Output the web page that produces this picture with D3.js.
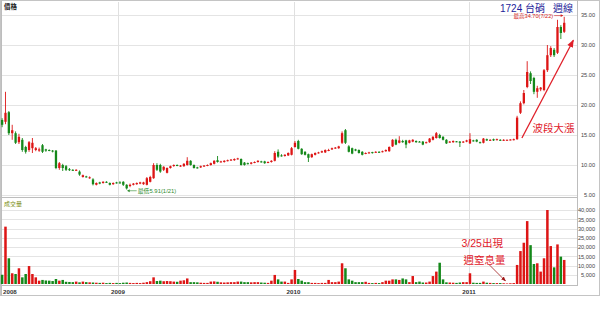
<!DOCTYPE html>
<html>
<head>
<meta charset="utf-8">
<script src="https://cdn.jsdelivr.net/npm/d3@7"></script>
<style>
  body { margin: 0; background: #fff; }
  svg { display: block; font-family: "Liberation Sans", "Noto Sans CJK TC", sans-serif; }
</style>
</head>
<body>
<svg id="chart" width="600" height="310"></svg>
<script>
// Weekly candles, one per Monday from 2008-05-05 to 2011-07-18
const opens = [
  17.5, 17.2, 18.8, 15.3, 15.3, 13.8, 14.2, 13.0, 12.5, 12.8,
  12.5, 12.4, 13.3, 12.6, 12.5, 12.4, 12.4, 9.5, 10.0, 9.8,
  9.3, 9.2, 9.1, 8.9, 8.0, 8.1, 7.8, 7.6, 6.7, 7.1,
  7.0, 7.2, 7.0, 6.8, 7.1, 7.1, 7.2, 6.7, 6.5, 6.7,
  6.8, 6.9, 6.8, 6.7, 7.2, 7.8, 10.0, 10.0, 9.2, 8.7,
  9.5, 9.9, 10.0, 9.8, 9.8, 10.0, 10.7, 10.0, 9.6, 9.6,
  9.8, 9.9, 10.0, 10.2, 10.8, 10.5, 10.5, 10.7, 10.8, 10.8,
  11.0, 11.0, 10.4, 10.3, 10.2, 10.4, 10.5, 10.6, 10.6, 10.4,
  10.5, 10.7, 12.2, 11.6, 11.5, 11.6, 11.7, 13.0, 14.0, 12.7,
  12.2, 11.8, 11.3, 11.7, 12.0, 12.1, 12.1, 12.4, 12.6, 12.8,
  12.8, 13.7, 15.8, 13.1, 12.8, 12.6, 12.5, 12.2, 11.9, 12.0,
  12.15, 12.1, 12.2, 12.2, 12.3, 12.3, 13.1, 14.2, 13.7, 14.0,
  14.1, 13.7, 13.9, 14.0, 13.9, 13.9, 13.7, 13.8, 14.2, 14.5,
  15.0, 14.7, 14.2, 13.8, 13.8, 13.95, 13.9, 13.8, 13.9, 13.6,
  14.1, 14.2, 13.8, 13.7, 14.3, 14.1, 14.3, 14.2, 14.2, 14.1,
  14.15, 14.2, 14.2, 14.3, 18.7, 20.3, 23.0, 25.3, 24.5, 22.2,
  22.6, 22.5, 25.8, 28.3, 29.2, 28.7, 33.0, 32.2
];
const highs = [
  17.8, 22.2, 19.0, 16.7, 15.6, 15.2, 14.5, 13.2, 14.0, 14.5,
  13.0, 12.9, 13.5, 12.7, 12.6, 12.5, 12.5, 10.5, 10.2, 10.0,
  9.5, 9.3, 9.3, 9.1, 8.4, 8.2, 8.1, 7.8, 7.1, 7.2,
  7.3, 7.3, 7.1, 7.1, 7.2, 7.3, 7.3, 6.8, 6.9, 7.0,
  7.1, 7.2, 7.2, 8.0, 8.2, 10.3, 10.3, 10.2, 9.8, 9.6,
  9.9, 10.1, 10.1, 10.0, 10.3, 11.3, 10.8, 10.1, 9.7, 9.9,
  10.0, 10.1, 10.4, 10.8, 11.5, 10.7, 10.8, 10.9, 11.0, 11.1,
  11.2, 11.1, 10.5, 10.4, 10.5, 10.6, 10.8, 10.7, 10.7, 10.6,
  10.8, 12.3, 12.6, 11.8, 11.8, 12.1, 13.0, 14.0, 14.2, 12.8,
  12.3, 11.9, 11.9, 12.1, 12.2, 12.4, 12.6, 12.7, 12.9, 13.0,
  13.2, 15.6, 16.0, 13.3, 12.9, 12.7, 12.6, 12.3, 12.1, 12.2,
  12.2, 12.3, 12.3, 12.4, 12.6, 13.1, 14.3, 14.4, 14.8, 14.2,
  14.2, 14.2, 14.3, 14.1, 14.0, 14.0, 13.9, 14.5, 14.8, 15.5,
  15.2, 14.8, 14.3, 14.0, 14.1, 14.0, 14.0, 14.0, 14.2, 15.3,
  14.2, 14.3, 13.9, 14.5, 14.4, 14.3, 14.4, 14.4, 14.3, 14.3,
  14.25, 14.3, 14.4, 18.2, 20.6, 22.5, 27.3, 25.6, 24.7, 23.2,
  23.0, 26.0, 30.0, 29.8, 29.5, 34.2, 33.3, 34.7
];
const lows = [
  16.3, 16.8, 15.0, 14.2, 13.5, 13.5, 12.2, 11.9, 12.2, 12.0,
  12.3, 12.2, 12.0, 12.2, 12.3, 12.1, 9.3, 9.2, 9.0, 9.0,
  9.0, 9.0, 9.0, 8.2, 7.9, 7.9, 7.7, 6.6, 6.6, 6.8,
  6.9, 7.0, 6.6, 6.7, 6.9, 6.9, 6.5, 5.91, 6.3, 6.6,
  6.7, 6.8, 6.7, 6.6, 7.1, 7.7, 9.0, 8.7, 9.0, 8.6,
  9.4, 9.7, 9.8, 9.7, 9.7, 9.9, 9.9, 9.4, 9.4, 9.5,
  9.7, 9.8, 9.9, 10.1, 10.4, 10.4, 10.4, 10.6, 10.7, 10.7,
  10.9, 9.9, 9.9, 10.1, 10.1, 10.3, 10.4, 10.4, 10.2, 10.3,
  10.4, 10.6, 11.2, 11.4, 11.4, 11.5, 11.6, 12.9, 12.6, 11.7,
  11.6, 10.5, 11.2, 11.6, 11.9, 12.0, 12.0, 12.3, 12.5, 12.7,
  12.7, 13.5, 13.5, 12.1, 11.8, 12.3, 11.9, 11.6, 11.8, 11.9,
  11.9, 12.0, 12.0, 12.1, 12.2, 12.2, 13.0, 13.3, 13.6, 13.7,
  12.8, 13.6, 13.8, 13.7, 13.8, 13.3, 13.6, 13.7, 14.1, 14.4,
  14.4, 14.1, 13.5, 13.7, 13.7, 13.8, 13.0, 13.7, 13.8, 13.5,
  13.9, 13.8, 13.6, 13.6, 14.0, 14.0, 14.0, 14.1, 14.0, 14.0,
  14.1, 14.1, 14.1, 14.2, 18.5, 20.1, 22.8, 23.5, 21.8, 21.2,
  22.3, 22.3, 25.5, 28.0, 28.0, 28.5, 31.0, 32.0
];
const closes = [
  16.7, 18.7, 15.3, 15.8, 13.7, 14.7, 12.5, 12.2, 13.8, 13.7,
  12.8, 12.6, 12.2, 12.4, 12.4, 12.3, 9.5, 10.3, 9.5, 9.2,
  9.2, 9.1, 9.2, 8.4, 8.3, 8.0, 7.95, 6.8, 7.0, 6.9,
  7.2, 7.1, 6.7, 7.0, 7.0, 7.0, 6.7, 6.1, 6.7, 6.9,
  7.0, 7.1, 7.1, 7.8, 8.0, 10.0, 9.2, 8.9, 9.7, 9.5,
  9.8, 10.0, 9.9, 9.9, 10.2, 10.7, 10.0, 9.5, 9.5, 9.8,
  9.9, 10.0, 10.3, 10.7, 10.5, 10.6, 10.7, 10.8, 10.9, 11.0,
  11.1, 10.0, 10.0, 10.2, 10.4, 10.5, 10.7, 10.5, 10.3, 10.5,
  10.7, 12.0, 11.4, 11.5, 11.7, 12.0, 12.8, 13.7, 12.7, 11.8,
  11.7, 11.2, 11.8, 12.0, 12.1, 12.3, 12.5, 12.5, 12.8, 12.9,
  13.1, 15.3, 13.7, 12.2, 11.9, 12.4, 12.0, 11.7, 12.0, 12.1,
  12.05, 12.2, 12.1, 12.3, 12.5, 13.0, 14.2, 13.4, 14.1, 13.8,
  13.4, 14.1, 14.2, 13.8, 13.85, 13.4, 13.8, 14.4, 14.7, 15.3,
  14.5, 14.2, 13.6, 13.9, 14.0, 13.9, 13.7, 13.9, 14.1, 14.3,
  14.0, 13.9, 13.7, 14.4, 14.1, 14.2, 14.1, 14.3, 14.1, 14.2,
  14.2, 14.25, 14.3, 17.9, 20.3, 22.0, 25.5, 24.0, 22.2, 22.8,
  22.9, 25.8, 28.3, 29.5, 28.3, 33.0, 32.0, 33.7
];
const volumes = [
  5000, 31000, 13900, 5800, 5400, 8500, 3600, 5400, 9700, 5400,
  3600, 1800, 2200, 1900, 1800, 1600, 2700, 1800, 2200, 1200,
  1100, 1000, 1300, 900, 1300, 1000, 900, 800, 700, 600,
  700, 500, 600, 500, 600, 500, 700, 800, 600, 500,
  600, 500, 700, 1000, 1500, 3600, 1600, 1800, 1500, 1600,
  1500, 1300, 1200, 1800, 2000, 3000, 1000, 1000, 900, 700,
  600, 600, 1300, 1400, 1200, 900, 800, 900, 1000, 1000,
  1300, 1300, 1000, 1000, 900, 1000, 1000, 800, 700, 600,
  1800, 4900, 2500, 1300, 1300, 600, 2500, 7600, 2700, 1800,
  1000, 1000, 600, 600, 500, 600, 600, 2200, 1000, 1000,
  1300, 11200, 8500, 2500, 1800, 1000, 1000, 1000, 1200, 600,
  500, 600, 500, 1000, 1800, 1800, 2500, 2500, 2200, 3000,
  2500, 1000, 4300, 1000, 1300, 800, 800, 1300, 4300, 6700,
  11500, 2500, 900, 800, 700, 600, 800, 1000, 1000, 5800,
  700, 600, 600, 1300, 700, 600, 500, 500, 500, 400,
  300, 400, 500, 10300, 17800, 22300, 34000, 21000, 10800, 11200,
  6700, 13900, 40000, 20500, 9000, 21400, 14800, 13000
];

const priceTicks = [5, 10, 15, 20, 25, 30, 35];
const volumeTicks = [5000, 10000, 15000, 20000, 25000, 30000, 35000, 40000];
const yearTicks = [2008, 2009, 2010, 2011];
const highDay = "7/22";
const lowDay = "1/21";

const weeks = d3.timeMonday.range(new Date(2008, 4, 5), new Date(2011, 6, 19));
const candles = weeks.map((date, i) => ({
  date, o: opens[i], h: highs[i], l: lows[i], c: closes[i], v: volumes[i]
}));

const left = 2, right = 577;
const priceTop = 2, priceBottom = 197;
const volBottom = 285;
const red = "#dd1515", green = "#14881a";
const color = d => d.c >= d.o ? red : green;

const x = d3.scaleTime()
  .domain([new Date(2008, 4, 4, 18), new Date(2011, 7, 13, 14)])
  .range([left, right]);
const y = d3.scaleLinear().domain([5, 35]).range([195, 15]);
const yv = d3.scaleLinear().domain([0, 40000]).range([284, 210]);

const svg = d3.select("#chart");

// markers for the annotation arrows
const defs = svg.append("defs");
[["arrRed", "#e0202a"], ["arrDark", "#a01818"]].forEach(([id, c]) => {
  defs.append("marker")
    .attr("id", id).attr("viewBox", "0 0 10 10")
    .attr("refX", 9).attr("refY", 5)
    .attr("markerWidth", 6).attr("markerHeight", 6)
    .attr("orient", "auto")
    .append("path").attr("d", "M0,1 L10,5 L0,9 z").attr("fill", c);
});

// outer frame
svg.append("rect")
  .attr("x", 0.5).attr("y", 0.5).attr("width", 599).attr("height", 295)
  .attr("fill", "#fff").attr("stroke", "#c4c4c4");

// horizontal grid lines
svg.append("g").selectAll("line").data(priceTicks).join("line")
  .attr("x1", left).attr("x2", right)
  .attr("y1", d => Math.round(y(d)) + 0.5).attr("y2", d => Math.round(y(d)) + 0.5)
  .attr("stroke", "#e4e4e4");
svg.append("g").selectAll("line").data(volumeTicks).join("line")
  .attr("x1", left).attr("x2", right)
  .attr("y1", d => Math.round(yv(d)) + 0.5).attr("y2", d => Math.round(yv(d)) + 0.5)
  .attr("stroke", "#e4e4e4");

// vertical year lines in both panels
const yearDates = yearTicks.map(yr => new Date(yr, 0, 1));
svg.append("g").selectAll("line").data(yearDates.filter(d => x(d) > left)).join("line")
  .attr("x1", d => Math.round(x(d)) + 0.5).attr("x2", d => Math.round(x(d)) + 0.5)
  .attr("y1", priceTop).attr("y2", volBottom)
  .attr("stroke", "#e0e0e0");

// panel borders
const border = "#bdbdbd";
svg.append("line").attr("x1", right + 0.5).attr("x2", right + 0.5)
  .attr("y1", 0).attr("y2", volBottom + 1).attr("stroke", border);
svg.append("line").attr("x1", 0).attr("x2", right)
  .attr("y1", priceBottom + 0.5).attr("y2", priceBottom + 0.5).attr("stroke", border);
svg.append("line").attr("x1", 0).attr("x2", right)
  .attr("y1", volBottom + 0.5).attr("y2", volBottom + 0.5).attr("stroke", border);
svg.append("line").attr("x1", 1.5).attr("x2", 1.5)
  .attr("y1", 0).attr("y2", 296).attr("stroke", border);

// candles
const cg = svg.append("g");
cg.selectAll("line").data(candles).join("line")
  .attr("x1", d => x(d.date)).attr("x2", d => x(d.date))
  .attr("y1", d => y(d.h)).attr("y2", d => y(d.l))
  .attr("stroke", color).attr("stroke-width", 0.9);
cg.selectAll("rect").data(candles).join("rect")
  .attr("x", d => x(d.date) - 1.15).attr("width", 2.3)
  .attr("y", d => y(Math.max(d.o, d.c)))
  .attr("height", d => Math.max(1, Math.abs(y(d.o) - y(d.c))))
  .attr("fill", color);

// volume bars
svg.append("g").selectAll("rect").data(candles).join("rect")
  .attr("x", d => x(d.date) - 1.25).attr("width", 2.5)
  .attr("y", d => yv(d.v)).attr("height", d => yv(0) - yv(d.v))
  .attr("fill", color);

// right axes
const axisText = g => {
  g.select(".domain").remove();
  g.selectAll(".tick line").remove();
  g.selectAll("text").attr("x", 18).attr("text-anchor", "end")
    .attr("fill", "#444").style("font-size", "5.6px").style("font-family", "Liberation Sans");
};
svg.append("g").attr("transform", `translate(${right},0)`)
  .call(d3.axisRight(y).tickValues(priceTicks).tickFormat(d3.format(".2f")))
  .call(axisText);
svg.append("g").attr("transform", `translate(${right},0)`)
  .call(d3.axisRight(yv).tickValues(volumeTicks).tickFormat(d3.format(",")))
  .call(axisText);

// year labels
svg.append("g").selectAll("text").data(yearDates).join("text")
  .attr("x", d => Math.max(left + 1, x(d)))
  .attr("y", 293.5)
  .attr("text-anchor", d => x(d) < left ? "start" : "middle")
  .attr("font-size", 6.2).attr("font-weight", "bold").attr("fill", "#333")
  .text(d => d.getFullYear());

// panel titles
svg.append("text").attr("x", 4).attr("y", 8.5)
  .attr("font-size", 6.5).attr("font-weight", "bold").attr("fill", "#222").text("價格");
svg.append("text").attr("x", 4).attr("y", 206)
  .attr("font-size", 6).attr("fill", "#7a8c10").text("成交量");

// chart title
svg.append("text").attr("x", 545).attr("y", 11.5).attr("text-anchor", "end")
  .attr("font-size", 10).attr("fill", "#1e1e9a").text("1724 台硝");
svg.append("text").attr("x", 573).attr("y", 11.5).attr("text-anchor", "end")
  .attr("font-size", 10).attr("fill", "#1e1e9a").text("週線");

// highest / lowest labels
const hi = candles[d3.maxIndex(candles, d => d.h)];
const lo = candles[d3.minIndex(candles, d => d.l)];
const hx = x(hi.date), hy = y(hi.h);
svg.append("text").attr("x", hx - 11).attr("y", hy + 1.2)
  .attr("text-anchor", "end").attr("font-size", 5.6).attr("fill", "#d42020")
  .text(`最高${d3.format(".2f")(hi.h)}(${highDay})`);
svg.append("line").attr("x1", hx - 10).attr("x2", hx - 1.5)
  .attr("y1", hy - 1.2).attr("y2", hy - 1.2)
  .attr("stroke", "#d42020").attr("stroke-width", 0.6);
svg.append("path")
  .attr("d", `M${hx - 1},${hy - 1.2} l-2.5,-1.4 v2.8 z`).attr("fill", "#d42020");

const lx = x(lo.date), ly = y(lo.l);
svg.append("line").attr("x1", lx + 1).attr("x2", lx + 10)
  .attr("y1", ly + 1.2).attr("y2", ly + 1.2)
  .attr("stroke", "#2e8b2e").attr("stroke-width", 0.6);
svg.append("path")
  .attr("d", `M${lx + 0.5},${ly + 1.2} l2.5,-1.4 v2.8 z`).attr("fill", "#2e8b2e");
svg.append("text").attr("x", lx + 11).attr("y", ly + 3.4)
  .attr("font-size", 5.9).attr("fill", "#2e8b2e")
  .text(`最低${d3.format(".2f")(lo.l)}(${lowDay})`);

// rally arrow and label
const rallyFrom = [new Date(2011, 3, 21), 14.5];
const rallyTo = [new Date(2011, 7, 6), 30.8];
const rx1 = x(rallyFrom[0]), ry1 = y(rallyFrom[1]);
svg.append("line")
  .attr("x1", rx1).attr("y1", ry1)
  .attr("x2", x(rallyTo[0])).attr("y2", y(rallyTo[1]))
  .attr("stroke", "#e0202a").attr("stroke-width", 1.3)
  .attr("marker-end", "url(#arrRed)");
svg.append("text").attr("x", rx1 + 10.5).attr("y", ry1 - 6)
  .attr("font-size", 10.5).attr("fill", "#e0202a").text("波段大漲");

// 3/25 lowest-volume week note
const quietWeek = candles[d3.minIndex(candles, d => d.v)];
const qx = x(quietWeek.date) - 1.5, qy = yv(0) - 3;
svg.append("line")
  .attr("x1", qx - 16).attr("y1", qy - 16).attr("x2", qx).attr("y2", qy)
  .attr("stroke", "#a01818").attr("stroke-width", 0.8)
  .attr("marker-end", "url(#arrDark)");
svg.append("text").attr("x", qx - 44).attr("y", qy - 34)
  .attr("font-size", 10.5).attr("fill", "#e0202a").text("3/25出現");
svg.append("text").attr("x", qx - 42).attr("y", qy - 17)
  .attr("font-size", 10.5).attr("fill", "#e0202a").text("週窒息量");
</script>
</body>
</html>
